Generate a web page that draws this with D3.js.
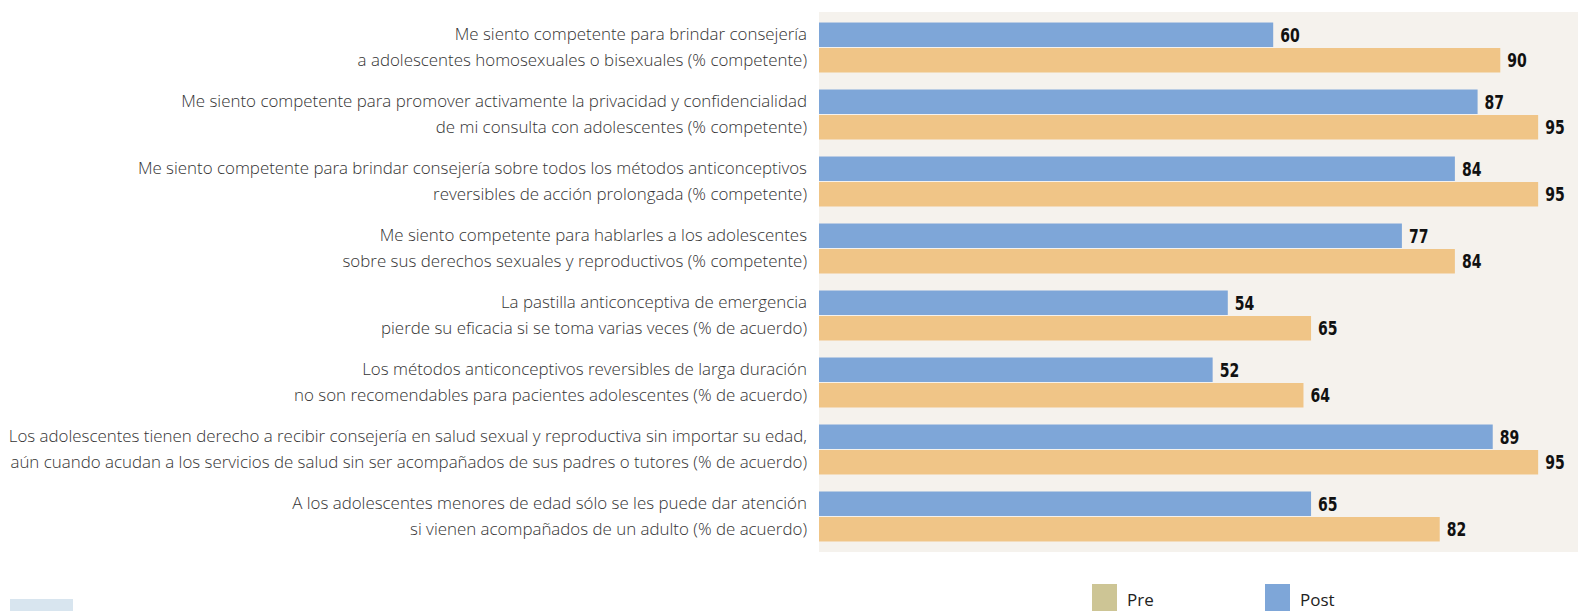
<!DOCTYPE html>
<html>
<head>
<meta charset="utf-8">
<script src="https://cdn.jsdelivr.net/npm/d3@7"></script>
<style>
  html, body { margin: 0; padding: 0; background: #fff; }
  svg { display: block; }
  .cat { font-family: "Open Sans", "Noto Sans", sans-serif; font-weight: 300; fill: #333; }
  .val { font-family: "Liberation Sans Narrow", "DejaVu Sans Condensed", sans-serif; font-weight: bold; fill: #111; }
  .leg { font-family: "Open Sans", "Noto Sans", sans-serif; fill: #222; }
</style>
</head>
<body>
<div id="chart"></div>
<script>
'use strict';

// Category labels, two lines each
const labelLine1 = [
  'Me siento competente para brindar consejería',
  'Me siento competente para promover activamente la privacidad y confidencialidad',
  'Me siento competente para brindar consejería sobre todos los métodos anticonceptivos',
  'Me siento competente para hablarles a los adolescentes',
  'La pastilla anticonceptiva de emergencia',
  'Los métodos anticonceptivos reversibles de larga duración',
  'Los adolescentes tienen derecho a recibir consejería en salud sexual y reproductiva sin importar su edad,',
  'A los adolescentes menores de edad sólo se les puede dar atención'
];
const labelLine2 = [
  'a adolescentes homosexuales o bisexuales (% competente)',
  'de mi consulta con adolescentes (% competente)',
  'reversibles de acción prolongada (% competente)',
  'sobre sus derechos sexuales y reproductivos (% competente)',
  'pierde su eficacia si se toma varias veces (% de acuerdo)',
  'no son recomendables para pacientes adolescentes (% de acuerdo)',
  'aún cuando acudan a los servicios de salud sin ser acompañados de sus padres o tutores (% de acuerdo)',
  'si vienen acompañados de un adulto (% de acuerdo)'
];

const seriesNames = ['Post', 'Pre'];
const postValues = [60, 87, 84, 77, 54, 52, 89, 65];
const preValues  = [90, 95, 95, 84, 65, 64, 95, 82];

const colors = { Post: '#7ea6d8', Pre: '#f0c587' };
const legendColors = { Pre: '#cdc595', Post: '#7ea6d8' };

const width = 1578, height = 611;
const plotLeft = 819, plotRight = 1578, plotTop = 12, plotBottom = 552;

const svg = d3.select('#chart').append('svg')
  .attr('width', width)
  .attr('height', height);

// Beige plot background
svg.append('rect')
  .attr('x', plotLeft).attr('y', plotTop)
  .attr('width', plotRight - plotLeft).attr('height', plotBottom - plotTop)
  .attr('fill', '#f5f2ed');

const x = d3.scaleLinear().domain([0, 100]).range([plotLeft, 1576]);

const groups = d3.range(labelLine1.length);
const y0 = d3.scaleBand().domain(groups).range([plotTop, plotBottom])
  .paddingInner(0.254).paddingOuter(0.157);
const y1 = d3.scaleBand().domain(seriesNames).range([0, y0.bandwidth()]).paddingInner(0.04);

const rows = groups.map(i => ({ i, Post: postValues[i], Pre: preValues[i] }));

const g = svg.append('g');
const grp = g.selectAll('g.grp').data(rows).join('g')
  .classed('grp', true)
  .attr('transform', d => `translate(0,${y0(d.i)})`);

grp.selectAll('rect.bar')
  .data(d => seriesNames.map(k => ({ k, v: d[k] })))
  .join('rect')
  .classed('bar', true)
  .attr('x', x(0))
  .attr('y', d => y1(d.k))
  .attr('width', d => x(d.v) - x(0))
  .attr('height', y1.bandwidth())
  .attr('fill', d => colors[d.k]);

// Value labels: squeeze horizontally to mimic a condensed bold face
grp.selectAll('text.val')
  .data(d => seriesNames.map(k => ({ k, v: d[k] })))
  .join('text')
  .classed('val', true)
  .attr('transform', d => `translate(${x(d.v) + 7},${y1(d.k) + y1.bandwidth() / 2}) scale(0.78,1)`)
  .attr('dy', '0.36em')
  .attr('font-size', 20)
  .text(d => d.v);

// Category labels, right aligned to the left of the plot
const labelX = 807;
const catSize = 16.9;
grp.append('text')
  .classed('cat', true)
  .attr('text-anchor', 'end')
  .attr('x', labelX)
  .attr('y', y1('Post') + y1.bandwidth() / 2)
  .attr('dy', '0.32em')
  .attr('font-size', catSize)
  .text(d => labelLine1[d.i]);

grp.append('text')
  .classed('cat', true)
  .attr('text-anchor', 'end')
  .attr('x', labelX)
  .attr('y', y1('Pre') + y1.bandwidth() / 2)
  .attr('dy', '0.32em')
  .attr('font-size', catSize)
  .text(d => labelLine2[d.i]);

// Legend
const legendItems = [ { k: 'Pre', x: 1092 }, { k: 'Post', x: 1265 } ];
const leg = svg.append('g');
leg.selectAll('rect').data(legendItems).join('rect')
  .attr('x', d => d.x).attr('y', 584)
  .attr('width', 25).attr('height', 30)
  .attr('fill', d => legendColors[d.k]);
leg.selectAll('text').data(legendItems).join('text')
  .classed('leg', true)
  .attr('x', d => d.x + 35).attr('y', 606)
  .attr('font-size', 17)
  .text(d => d.k);

// Small light-blue tab at bottom left
svg.append('rect')
  .attr('x', 10).attr('y', 599)
  .attr('width', 63).attr('height', 12)
  .attr('fill', '#d8e5ef');
</script>
</body>
</html>
